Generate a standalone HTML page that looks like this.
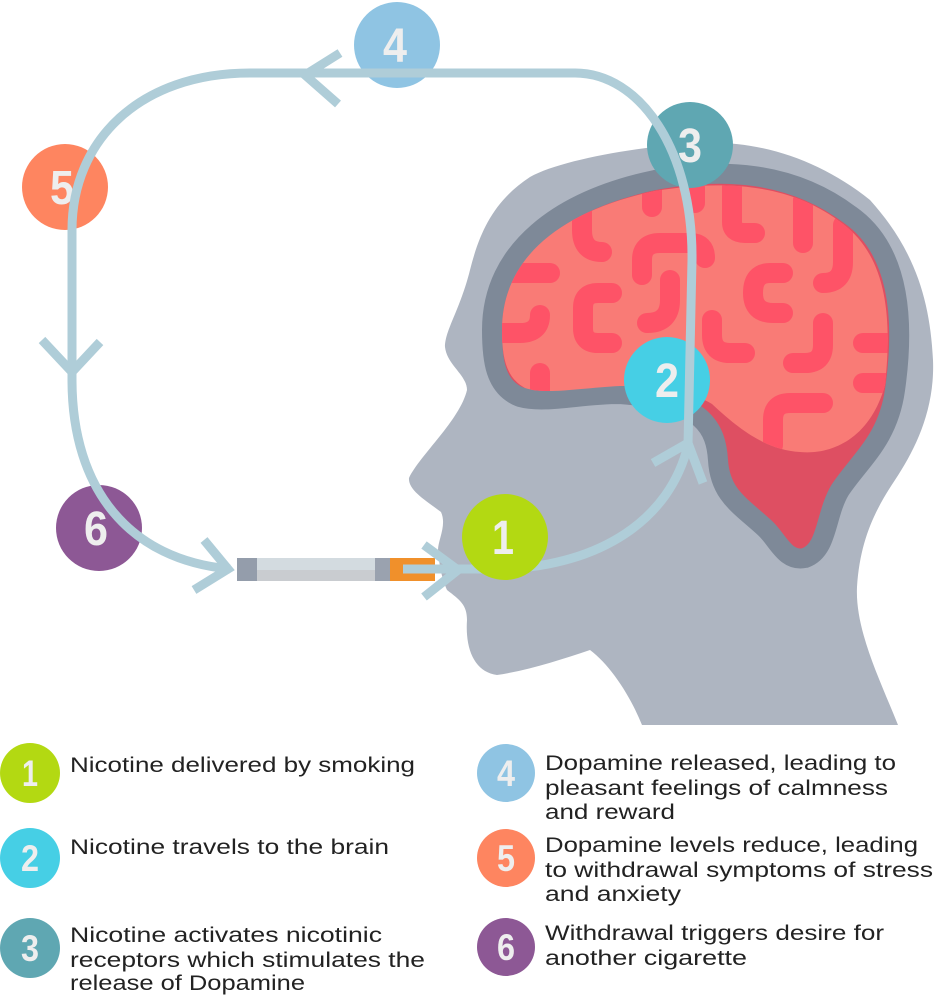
<!DOCTYPE html>
<html><head><meta charset="utf-8"><style>
html,body{margin:0;padding:0;background:#fff;}
svg{display:block;}
.n{font-family:"Liberation Sans",sans-serif;font-weight:bold;fill:#eeeeee;text-anchor:middle;}
.t{font-family:"Liberation Sans",sans-serif;font-size:21px;fill:#222;}
</style></head><body>
<svg width="935" height="998" viewBox="0 0 935 998" xmlns="http://www.w3.org/2000/svg">
<!-- head -->
<path d="M642 725 L898 725 C880 680 855 630 857 587 C860 540 875 510 895 480 C915 450 935 410 933 360 C930 300 915 250 870 200 C820 160 760 140 700 143 C640 146 560 160 530 177 C495 200 480 230 470 270 C460 310 445 330 445 347 C447 365 467 375 467 390 C460 420 420 455 409 478 C408 490 425 500 441 512 C447 525 438 540 438 550 C440 575 445 585 447 590 C460 600 467 605 467 620 C465 650 475 672 497 675 C530 670 560 660 590 650 C610 665 630 695 642 725 Z" fill="#aeb5c1"/>
<!-- brain outline + stem -->
<path d="M492 330 C492 250 560 200 655 180 C720 168 790 170 850 215 C900 250 905 320 895 390 C888 440 860 460 840 490 C825 515 828 550 805 558 C785 562 778 540 765 528 C740 505 720 495 718 460 C716 430 705 400 620 394 C580 394 545 404 520 397 C495 387 492 360 492 330 Z" fill="#de4f62" stroke="#7e8998" stroke-width="20" stroke-linejoin="round"/>
<clipPath id="cb"><path d="M502 330 C502 255 565 210 655 191 C720 180 790 182 843 224 C888 258 892 320 885 385 C870 440 830 455 800 452 C770 450 745 435 712 404 C690 390 650 386 620 386 C580 388 545 395 525 388 C507 378 502 360 502 330 Z"/></clipPath>
<g clip-path="url(#cb)">
<rect x="490" y="170" width="420" height="300" fill="#f97b76"/>
<g fill="none" stroke="#fe5367" stroke-width="20" stroke-linecap="round" stroke-linejoin="round">
<path d="M582 190 L582 230 Q582 252 602 252"/>
<path d="M550 273 L495 273"/>
<path d="M540 315 Q540 333 520 333 L495 333"/>
<path d="M612 293 L598 293 Q583 293 583 308 L583 328 Q583 343 598 343 L612 343"/>
<path d="M652 185 L652 207"/>
<path d="M642 275 L642 260 Q642 243 660 243 L690 243 Q705 243 705 258"/>
<path d="M670 280 L670 300 Q670 323 647 323"/>
<path d="M695 188 L695 203"/>
<path d="M732 185 L732 222 Q732 233 745 233 L755 233"/>
<path d="M803 200 L803 243"/>
<path d="M843 225 L843 262 Q843 283 823 283"/>
<path d="M783 273 L770 273 Q753 273 753 293 Q753 313 773 313 L783 313"/>
<path d="M712 320 L712 335 Q712 353 730 353 L745 353"/>
<path d="M823 323 L823 345 Q823 363 805 363 L793 363"/>
<path d="M863 343 L900 343"/>
<path d="M863 383 L900 383"/>
<path d="M773 445 L773 420 Q773 403 790 403 L823 403"/>
<path d="M540 373 L540 395"/>
</g>
</g>
<!-- circles behind lines -->
<circle cx="397" cy="45" r="43" fill="#8fc4e3"/>
<circle cx="65" cy="187" r="43" fill="#fe8560"/>
<circle cx="99" cy="528" r="43" fill="#8d5895"/>
<circle cx="690" cy="145" r="43" fill="#5fa7b2"/>
<circle cx="667" cy="380" r="43" fill="#46cfe5"/>
<text class="n" x="395" y="62" font-size="48" textLength="24" lengthAdjust="spacingAndGlyphs">4</text>
<text class="n" x="62" y="204" font-size="48" textLength="24" lengthAdjust="spacingAndGlyphs">5</text>
<text class="n" x="96" y="545" font-size="48" textLength="24" lengthAdjust="spacingAndGlyphs">6</text>
<text class="n" x="690" y="162" font-size="48" textLength="24" lengthAdjust="spacingAndGlyphs">3</text>
<text class="n" x="667" y="397" font-size="48" textLength="24" lengthAdjust="spacingAndGlyphs">2</text>
<!-- cigarette -->
<rect x="237" y="558" width="20" height="23" fill="#949dab"/>
<rect x="257" y="558" width="118" height="23" fill="#d3dbe0"/>
<rect x="257" y="570" width="118" height="11" fill="#c9ccd0"/>
<rect x="375" y="558" width="15" height="23" fill="#9aa2af"/>
<rect x="390" y="558" width="45" height="23" fill="#f0902b"/>
<!-- loop line -->
<g fill="none" stroke="#afcdd8" stroke-width="9">
<path d="M403 569 L505 569 C600 565 670 520 688 445 L692 260 C693 150 640 73 575 73 L250 73 C140 73 72 140 72 230 L72 380 C72 490 130 560 230 569"/>
<polyline points="340,53 305,75 338,104" stroke-linejoin="miter"/>
<polyline points="42,340 72,372 100,342" stroke-linejoin="miter"/>
<polyline points="204,540 228,569 194,590" stroke-linejoin="miter"/>
<polyline points="424,545 458,570 424,597" stroke-linejoin="miter"/>
<polyline points="653,463 688,443 703,483" stroke-linejoin="miter"/>
</g>
<circle cx="505" cy="537" r="43" fill="#b3d912"/>
<text class="n" x="503" y="554" font-size="48" textLength="22" lengthAdjust="spacingAndGlyphs">1</text>
<!-- legend -->
<circle cx="30" cy="773" r="30" fill="#b3d912"/><text class="n" x="30" y="786" font-size="37" textLength="16" lengthAdjust="spacingAndGlyphs">1</text>
<circle cx="30" cy="858" r="30" fill="#46cfe5"/><text class="n" x="30" y="871" font-size="37" textLength="18" lengthAdjust="spacingAndGlyphs">2</text>
<circle cx="30" cy="948" r="30" fill="#5fa7b2"/><text class="n" x="30" y="961" font-size="37" textLength="18" lengthAdjust="spacingAndGlyphs">3</text>
<circle cx="506" cy="773" r="29" fill="#8fc4e3"/><text class="n" x="506" y="786" font-size="37" textLength="18" lengthAdjust="spacingAndGlyphs">4</text>
<circle cx="506" cy="858" r="29" fill="#fe8560"/><text class="n" x="506" y="871" font-size="37" textLength="18" lengthAdjust="spacingAndGlyphs">5</text>
<circle cx="506" cy="947" r="29" fill="#8d5895"/><text class="n" x="506" y="960" font-size="37" textLength="18" lengthAdjust="spacingAndGlyphs">6</text>
<text class="t" x="70" y="772" textLength="345" lengthAdjust="spacingAndGlyphs">Nicotine delivered by smoking</text>
<text class="t" x="70" y="854" textLength="319" lengthAdjust="spacingAndGlyphs">Nicotine travels to the brain</text>
<text class="t" x="70" y="942" textLength="312" lengthAdjust="spacingAndGlyphs">Nicotine activates nicotinic</text>
<text class="t" x="70" y="967" textLength="355" lengthAdjust="spacingAndGlyphs">receptors which stimulates the</text>
<text class="t" x="70" y="990" textLength="235" lengthAdjust="spacingAndGlyphs">release of Dopamine</text>
<text class="t" x="545" y="770" textLength="351" lengthAdjust="spacingAndGlyphs">Dopamine released, leading to</text>
<text class="t" x="545" y="795" textLength="343" lengthAdjust="spacingAndGlyphs">pleasant feelings of calmness</text>
<text class="t" x="545" y="819" textLength="130" lengthAdjust="spacingAndGlyphs">and reward</text>
<text class="t" x="545" y="852" textLength="373" lengthAdjust="spacingAndGlyphs">Dopamine levels reduce, leading</text>
<text class="t" x="545" y="877" textLength="388" lengthAdjust="spacingAndGlyphs">to withdrawal symptoms of stress</text>
<text class="t" x="545" y="901" textLength="136" lengthAdjust="spacingAndGlyphs">and anxiety</text>
<text class="t" x="545" y="940" textLength="339" lengthAdjust="spacingAndGlyphs">Withdrawal triggers desire for</text>
<text class="t" x="545" y="965" textLength="202" lengthAdjust="spacingAndGlyphs">another cigarette</text>
</svg>
</body></html>
